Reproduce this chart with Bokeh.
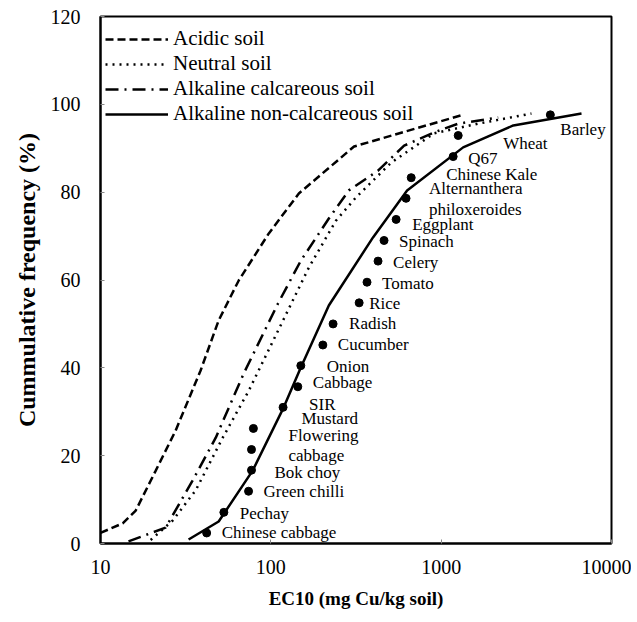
from bokeh.plotting import figure
from bokeh.models import FixedTicker, CustomJSTickFormatter, ColumnDataSource, Legend, LegendItem
from bokeh.embed import file_html
from bokeh.resources import INLINE
from bokeh.core.properties import value

# ---- data ----
acidic_x = [10, 13.5, 16.1, 21.1, 27.6, 38.7, 49.4, 64.8, 97.3, 146, 308, 1364]
acidic_y = [2.4, 4.6, 7.5, 16.6, 25.7, 39.4, 50.8, 59.9, 70.6, 79.7, 90.4, 97.7]

neutral_x = [19.7, 26.5, 36.2, 52.2, 74.2, 118, 167, 241, 316, 508, 909, 1651, 3388]
neutral_y = [0.8, 5.2, 12.1, 24.1, 34.8, 50.8, 62.8, 73.5, 78.8, 86.7, 93.4, 95.6, 97.9]

alk_calc_x = [14.6, 24.1, 34.7, 47.5, 69.3, 110, 150, 219, 287, 426, 606, 909, 1259, 2163]
alk_calc_y = [0.5, 3.6, 14.3, 24.1, 38.7, 54.6, 64.4, 74.0, 80.4, 84.9, 90.6, 93.6, 95.6, 97.0]

alk_non_x = [32.9, 49.4, 78.2, 119, 150, 219, 398, 631, 1346, 2652, 6667]
alk_non_y = [0.9, 5.0, 16.6, 31.0, 40.1, 54.2, 69.7, 80.4, 90.2, 95.2, 97.9]

species = ["Chinese cabbage", "Pechay", "Green chilli", "Bok choy", "Flowering\ncabbage",
           "Mustard", "SIR", "Cabbage", "Onion", "Cucumber", "Radish", "Rice", "Tomato",
           "Celery", "Spinach", "Eggplant", "Alternanthera\nphiloxeroides", "Chinese Kale",
           "Q67", "Wheat", "Barley"]
species_ec10 = [42, 53, 74, 77, 77, 79, 118, 144, 150, 202, 232, 330, 367, 426, 462,
                544, 622, 667, 1176, 1259, 4375]
species_freq = [2.4, 7.1, 11.9, 16.7, 21.4, 26.2, 31.0, 35.7, 40.5, 45.2, 50.0, 54.8,
                59.5, 64.3, 69.0, 73.8, 78.6, 83.3, 88.1, 92.9, 97.6]

x_ticks = [10, 100, 1000, 10000]
y_ticks = [0, 20, 40, 60, 80, 100, 120]

# label placement (screen pixel offsets from each point)
label_dx = [15, 16, 15, 23, 37, 48, 26, 15, 26, 15, 16, 10, 15, 15, 15, 16, 23, 35, 15, 45, 10]
label_dy = [0, 1, 0, 2, -4, -10, -3, -4, 1, 0, 0, 1, 1, 1, 1, 5, 1, -3, 2, 8, 15]

SERIF = "Liberation Serif"

p = figure(output_backend="svg", toolbar_location=None,
           x_axis_type="log", x_range=(10, 10000), y_range=(0, 120),
           frame_width=511, frame_height=527,
           min_border_left=100, min_border_right=20, min_border_top=16, min_border_bottom=72)

p.background_fill_color = "white"
p.border_fill_color = "white"
p.outline_line_color = "black"
p.outline_line_width = 2
p.xgrid.visible = False
p.ygrid.visible = False

for ax in (p.xaxis[0], p.yaxis[0]):
    ax.axis_line_color = "black"
    ax.axis_line_width = 2
    ax.major_tick_in = 4
    ax.major_tick_out = 0
    ax.major_tick_line_color = "#888888"
    ax.minor_tick_line_color = None
    ax.major_label_text_font = SERIF
    ax.major_label_text_font_size = "20px"
    ax.major_label_text_color = "black"
    ax.axis_label_text_font = SERIF
    ax.axis_label_text_font_style = "bold"
    ax.axis_label_text_color = "black"

p.xaxis.ticker = FixedTicker(ticks=x_ticks)
p.xaxis.formatter = CustomJSTickFormatter(code="return String(Math.round(tick));")
p.yaxis.ticker = FixedTicker(ticks=y_ticks)
p.xaxis.major_label_standoff = 16
p.yaxis.major_label_standoff = 20
p.xaxis.axis_label = "EC10 (mg Cu/kg soil)"
p.yaxis.axis_label = "Cummulative frequency (%)"
p.xaxis.axis_label_text_font_size = "19px"
p.yaxis.axis_label_text_font_size = "24px"
p.xaxis.axis_label_standoff = 11
p.yaxis.axis_label_standoff = 8

r1 = p.line(acidic_x, acidic_y, line_color="black", line_width=2.5, line_dash="8 4")
r2 = p.line(neutral_x, neutral_y, line_color="black", line_width=2.5, line_dash="2 5")
r3 = p.line(alk_calc_x, alk_calc_y, line_color="black", line_width=2.5, line_dash="13 6 2 6")
r4 = p.line(alk_non_x, alk_non_y, line_color="black", line_width=2.5)

src = ColumnDataSource(dict(x=species_ec10, y=species_freq, name=species,
                            dx=label_dx, dy=label_dy))
p.scatter("x", "y", source=src, size=8, color="black")
p.text("x", "y", text="name", source=src, x_offset="dx", y_offset="dy",
       text_font=value(SERIF), text_font_size="17px", text_align="left",
       text_baseline="middle", text_line_height=1.1, text_color="black")

legend = Legend(items=[LegendItem(label="Acidic soil", renderers=[r1]),
                       LegendItem(label="Neutral soil", renderers=[r2]),
                       LegendItem(label="Alkaline calcareous soil", renderers=[r3]),
                       LegendItem(label="Alkaline non-calcareous soil", renderers=[r4])])
legend.border_line_color = None
legend.background_fill_alpha = 0
legend.label_text_font = SERIF
legend.label_text_font_size = "21px"
legend.label_text_color = "black"
legend.glyph_width = 63
legend.glyph_height = 20
legend.label_height = 20
legend.label_standoff = 5
legend.spacing = 0
legend.padding = 0
legend.margin = 0
legend.location = (5, 417)
p.add_layout(legend)

open("out.html", "w").write(file_html(p, INLINE))
